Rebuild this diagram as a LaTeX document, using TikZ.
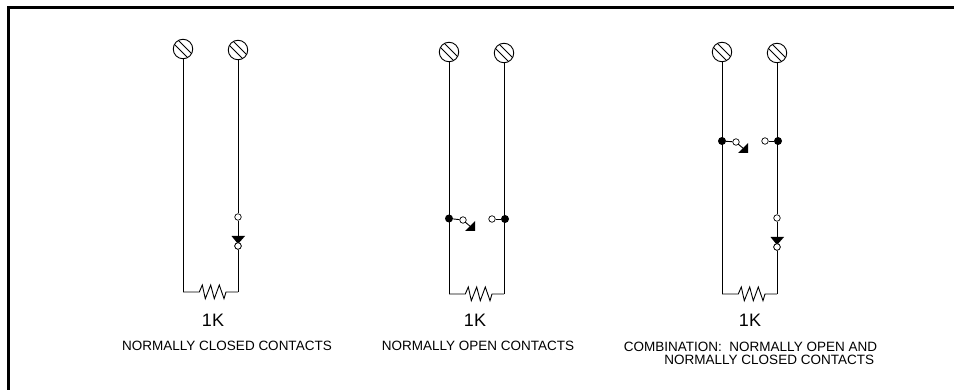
\documentclass[tikz,border=0pt]{standalone}
\usepackage{fontspec}
\setmainfont{Liberation Sans}
\begin{document}
\begin{tikzpicture}[x=1pt,y=-1pt,
  wire/.style={line width=0.9pt,black},
  frameline/.style={line width=2.4pt,black},
  captext/.style={font=\fontsize{13.5}{13.2}\selectfont,inner sep=0pt},
  val/.style={font=\fontsize{18}{20}\selectfont,inner sep=0pt},
  hole/.style={circle,draw=black,fill=white,line width=0.7pt,minimum size=6.5pt,inner sep=0pt},
  dotn/.style={circle,fill=black,minimum size=8pt,inner sep=0pt},
  screw/.style={circle,draw=black,line width=0.9pt,minimum size=19.5pt,inner sep=0pt}]
\useasboundingbox (0,0) rectangle (954,390);
\draw[frameline] (8.4,390) -- (8.4,7.5) -- (954,7.5);
\newcommand{\screwmark}[1]{%
  \draw[line width=0.9pt] ([shift={(-8.3,-4.3)}]#1.center) -- ([shift={(4.3,8.3)}]#1.center);
  \draw[line width=0.9pt] ([shift={(-4.3,-8.3)}]#1.center) -- ([shift={(8.3,4.3)}]#1.center);}
\newcommand{\resistor}[2]{%
  \draw[wire] (#1) -- ++(16.3,0) -- ++(3,-7) -- ++(3,13.7) -- ++(5.4,-13.7) -- ++(3.6,13.7) -- ++(5,-13.7) -- ++(4.7,13.7) -- ++(2,-6.7) -- (#2);}
% left
\node[screw] (a1) at (183,49) {}; \node[screw] (a2) at (238,50) {};
\screwmark{a1}\screwmark{a2}
\coordinate (ac1) at (183,292); \coordinate (ac2) at (238,292);
\node[hole] (an1) at (238,217) {}; \node[hole] (an2) at (238,246) {};
\draw[wire] (a1) -- (ac1); \draw[wire] (a2) -- (an1); \draw[wire] (an1) -- (an2); \draw[wire] (an2) -- (ac2);
\fill (231.5,236) -- (245,236) -- (238,244) -- cycle;
\node[hole] at (238,246) {};
\resistor{ac1}{ac2}
\node[val] (av) at (213,320) {1K};
\node[captext] (at) at (227,346) {NORMALLY CLOSED CONTACTS};
% middle
\node[screw] (b1) at (449,52) {}; \node[screw] (b2) at (504,53) {};
\screwmark{b1}\screwmark{b2}
\coordinate (bc1) at (449,294); \coordinate (bc2) at (504,294);
\node[dotn] (bd1) at (449,218.5) {}; \node[dotn] (bd2) at (505,219) {};
\node[hole] (bh1) at (463,220) {}; \node[hole] (bh2) at (492,219) {};
\draw[wire] (b1) -- (bc1); \draw[wire] (b2) -- (bc2);
\draw[wire] (bd1) -- (bh1); \draw[wire] (bd2) -- (bh2);
\fill (475,221) -- (475,231) -- (465,231) -- cycle;
\draw[wire] (465,222) -- (471,227);
\resistor{bc1}{bc2}
\node[val] (bv) at (475,320) {1K};
\node[captext] (bt) at (478,346) {NORMALLY OPEN CONTACTS};
% right
\node[screw] (c1) at (722,52) {}; \node[screw] (c2) at (777,53) {};
\screwmark{c1}\screwmark{c2}
\coordinate (cc1) at (722,294); \coordinate (cc2) at (777,294);
\node[dotn] (cd1) at (722,141) {}; \node[dotn] (cd2) at (778,141) {};
\node[hole] (ch1) at (736,142) {}; \node[hole] (ch2) at (765,141) {};
\node[hole] (cn1) at (777,218) {}; \node[hole] (cn2) at (777,247) {};
\draw[wire] (c1) -- (cc1); \draw[wire] (c2) -- (cn1); \draw[wire] (cn1) -- (cn2); \draw[wire] (cn2) -- (cc2);
\fill (770.5,237) -- (784,237) -- (777,245) -- cycle;
\node[hole] at (777,247) {};
\draw[wire] (cd1) -- (ch1); \draw[wire] (cd2) -- (ch2);
\fill (748,143) -- (748,153) -- (738,153) -- cycle;
\draw[wire] (738,144) -- (744,149);
\resistor{cc1}{cc2}
\node[val] (cv) at (750,320) {1K};
\node[captext,align=right] (ct) at (750.5,353) {COMBINATION:\ \ NORMALLY OPEN AND\\NORMALLY CLOSED CONTACTS\hspace*{3pt}};
\end{tikzpicture}
\end{document}
